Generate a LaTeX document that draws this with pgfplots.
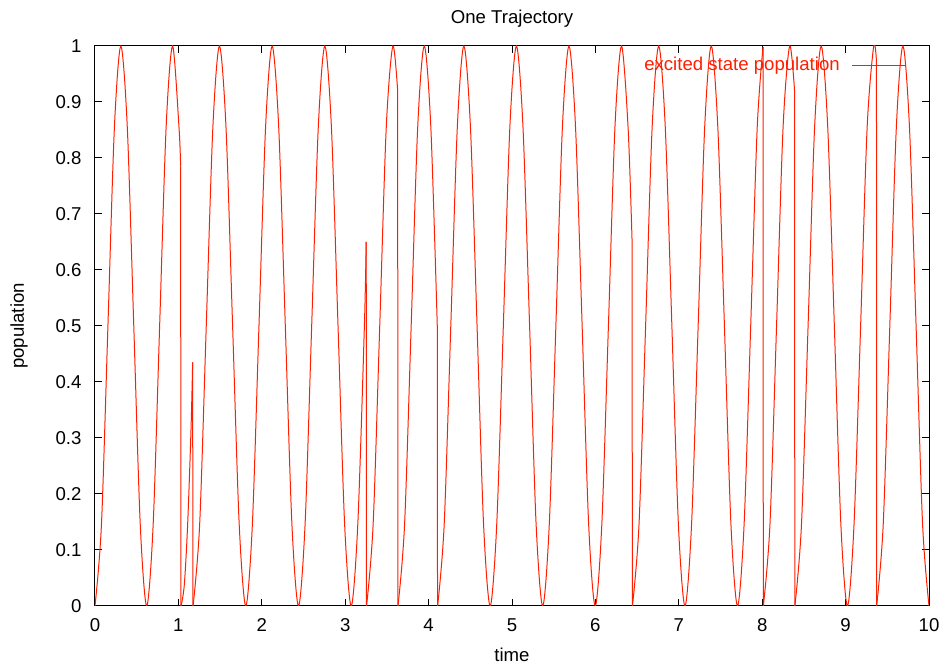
\documentclass[border=0pt]{standalone}
\usepackage{fontspec}
\setmainfont{Liberation Sans}
\usepackage{pgfplots}
\pgfplotsset{compat=1.18}
\definecolor{gpred}{RGB}{255,30,0}

\begin{document}
\fontsize{9.3}{11}\selectfont
\begin{tikzpicture}
\path[use as bounding box] (-47.5pt,-31pt) rectangle (425.5pt,303pt);
\begin{axis}[
  at={(0,0)}, anchor=south west,
  scale only axis, width=417pt, height=280pt,
  xmin=0, xmax=10, ymin=0, ymax=1,
  xtick={0,1,2,3,4,5,6,7,8,9,10},
  ytick={0,0.1,0.2,0.3,0.4,0.5,0.6,0.7,0.8,0.9,1},
  yticklabel style={/pgf/number format/fixed, /pgf/number format/precision=1, xshift=-3.5pt},
  /pgf/number format/assume math mode=true,
  tick align=inside,
  major tick length=3.7pt,
  minor tick num=0,
  axis line style={black, line width=0.5pt},
  every tick/.style={black, line width=0.5pt},
  xticklabel style={yshift=-3pt},
  every axis title shift=0pt,
  title={One Trajectory},
  title style={at={(0.5,1)}, anchor=base, yshift=11.4pt},
  xlabel={time},
  xlabel style={at={(axis description cs:0.5,-0.0995)}, anchor=base},
  ylabel={population},
  ylabel style={at={(axis description cs:-0.091,0.5)}, anchor=center},
  legend plot pos=right,
  legend image code/.code={\draw[gpred, line width=0.5pt] (0pt,0pt) -- (27pt,0pt);},
  legend style={draw=none, fill=none, text=gpred,
    at={(rel axis cs:0.9733,0.9657)}, anchor=east,
    inner sep=0pt, outer sep=0pt, nodes={inner sep=0pt},
    /tikz/every odd column/.append style={column sep=6pt}},
]
% segment 1
\addplot[gpred, line width=0.5pt, smooth] coordinates {
(0,0) (0.0775,0.146) (0.155,0.5) (0.2325,0.854) (0.31,1) (0.3875,0.854)
(0.465,0.5) (0.5425,0.146) (0.62,0) (0.6975,0.146) (0.775,0.5) (0.8525,0.854)
(0.93,1) (1.0075,0.854) (1.027,0.785)};
\addlegendentry{excited state population}
% segment 2
\addplot[gpred, line width=0.5pt, smooth, forget plot] coordinates {
(1.032,0) (1.071,0.038) (1.111,0.146) (1.150,0.309) (1.171,0.435)};
% segment 3
\addplot[gpred, line width=0.5pt, smooth, forget plot] coordinates {
(1.176,0) (1.255,0.146) (1.334,0.5) (1.413,0.854) (1.492,1) (1.571,0.854)
(1.650,0.5) (1.729,0.146) (1.808,0) (1.887,0.146) (1.966,0.5) (2.045,0.854)
(2.124,1) (2.203,0.854) (2.282,0.5) (2.361,0.146) (2.440,0) (2.519,0.146)
(2.598,0.5) (2.677,0.854) (2.756,1) (2.835,0.854) (2.914,0.5) (2.993,0.146)
(3.072,0) (3.151,0.146) (3.230,0.5) (3.252,0.65)};
% segment 4
\addplot[gpred, line width=0.5pt, smooth, forget plot] coordinates {
(3.256,0) (3.335,0.146) (3.414,0.5) (3.492,0.854) (3.571,1) (3.629,0.92)};
% segment 5
\addplot[gpred, line width=0.5pt, smooth, forget plot] coordinates {
(3.633,0) (3.712,0.146) (3.791,0.5) (3.869,0.854) (3.948,1) (4.027,0.854) (4.104,0.5)};
% segment 6
\addplot[gpred, line width=0.5pt, smooth, forget plot] coordinates {
(4.108,0) (4.187,0.146) (4.266,0.5) (4.344,0.854) (4.423,1) (4.502,0.854)
(4.581,0.5) (4.659,0.146) (4.738,0) (4.817,0.146) (4.896,0.5) (4.974,0.854)
(5.053,1) (5.132,0.854) (5.211,0.5) (5.289,0.146) (5.368,0) (5.447,0.146)
(5.526,0.5) (5.604,0.854) (5.683,1) (5.762,0.854) (5.841,0.5) (5.919,0.146)
(5.998,0) (6.077,0.146) (6.156,0.5) (6.234,0.854) (6.313,1) (6.392,0.854)
(6.44,0.65)};
% segment 7
\addplot[gpred, line width=0.5pt, smooth, forget plot] coordinates {
(6.444,0) (6.523,0.146) (6.602,0.5) (6.680,0.854) (6.759,1) (6.838,0.854)
(6.917,0.5) (6.995,0.146) (7.074,0) (7.153,0.146) (7.232,0.5) (7.310,0.854)
(7.389,1) (7.468,0.854) (7.547,0.5) (7.625,0.146) (7.704,0) (7.783,0.146)
(7.862,0.5) (7.940,0.854) (8.01,0.998)};
% segment 8
\addplot[gpred, line width=0.5pt, smooth, forget plot] coordinates {
(8.014,0) (8.093,0.146) (8.172,0.5) (8.250,0.854) (8.329,1) (8.388,0.92)};
% segment 9
\addplot[gpred, line width=0.5pt, smooth, forget plot] coordinates {
(8.392,0) (8.471,0.146) (8.550,0.5) (8.628,0.854) (8.707,1) (8.786,0.854)
(8.865,0.5) (8.943,0.146) (9.022,0) (9.101,0.146) (9.180,0.5) (9.258,0.854)
(9.337,1) (9.37,0.973)};
% segment 10
\addplot[gpred, line width=0.5pt, smooth, forget plot] coordinates {
(9.372,0) (9.451,0.146) (9.530,0.5) (9.608,0.854) (9.687,1) (9.766,0.854)
(9.845,0.5) (9.923,0.146) (10,0)};
% quantum jumps
\addplot[gpred, line width=0.5pt, forget plot] coordinates {(1.027,0.785) (1.030,0)};
\addplot[gpred, line width=0.5pt, forget plot] coordinates {(1.171,0.435) (1.174,0)};
\addplot[gpred, line width=0.5pt, forget plot] coordinates {(3.252,0.65) (3.255,0)};
\addplot[gpred, line width=0.5pt, forget plot] coordinates {(3.629,0.92) (3.632,0)};
\addplot[gpred, line width=0.5pt, forget plot] coordinates {(4.104,0.5) (4.107,0)};
\addplot[gpred, line width=0.5pt, forget plot] coordinates {(6.44,0.65) (6.443,0)};
\addplot[gpred, line width=0.5pt, forget plot] coordinates {(8.01,0.998) (8.013,0)};
\addplot[gpred, line width=0.5pt, forget plot] coordinates {(8.388,0.92) (8.391,0)};
\addplot[gpred, line width=0.5pt, forget plot] coordinates {(9.37,0.973) (9.373,0)};
\end{axis}
\end{tikzpicture}
\end{document}
